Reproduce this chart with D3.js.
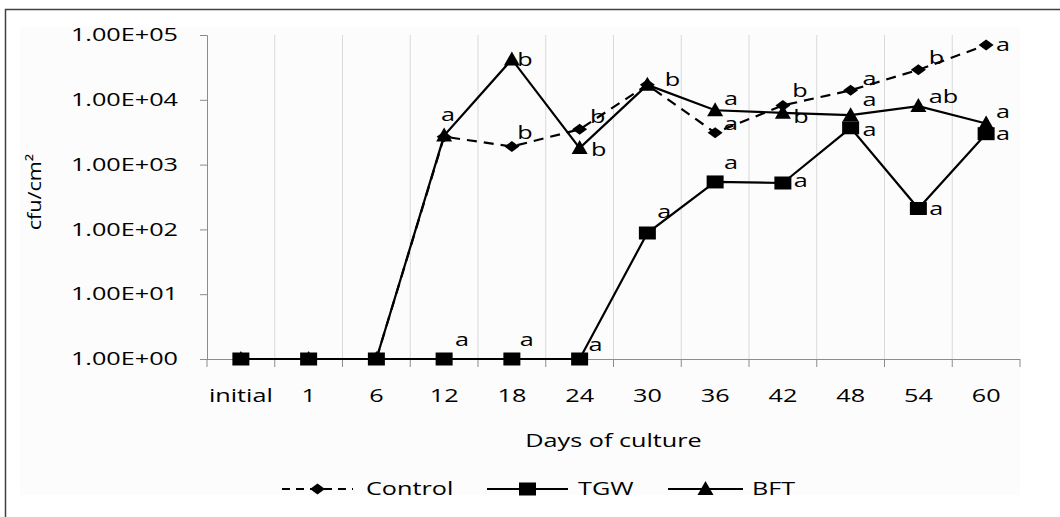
<!DOCTYPE html>
<html>
<head>
<meta charset="utf-8">
<script src="https://cdn.jsdelivr.net/npm/d3@7"></script>
<style>
  html, body { margin: 0; padding: 0; background: #fff; }
  svg text { font-family: "Open Sans", sans-serif; fill: #000; }
</style>
</head>
<body>
<script>
// chart data
const categories = ["initial", "1", "6", "12", "18", "24", "30", "36", "42", "48", "54", "60"];
const controlValues = [1, 1, 1, 2700, 1900, 3500, 17000, 3100, 8200, 14000, 29000, 70000];
const tgwValues = [1, 1, 1, 1, 1, 1, 88, 540, 520, 3700, 210, 3000];
const bftValues = [1, 1, 1, 2800, 42000, 1800, 17000, 6900, 6300, 5800, 8000, 4300];

// significance letters
const controlLetters = ["", "", "", "", "b", "b", "", "a", "b", "a", "b", "a"];
const tgwLetters = ["", "", "", "a", "a", "a", "a", "a", "a", "a", "a", "a"];
const bftLetters = ["", "", "", "a", "b", "b", "b", "a", "b", "a", "ab", "a"];

const yTickValues = [1, 10, 100, 1000, 10000, 100000];
const yTickLabels = ["1.00E+00", "1.00E+01", "1.00E+02", "1.00E+03", "1.00E+04", "1.00E+05"];
const seriesNames = ["Control", "TGW", "BFT"];

// where each letter sits relative to its marker
const controlOffsets = [null, null, null, null, [13, -14], [18, -13], null, [16, -9], [17, -15], [19, -12], [18, -12], [17, 0]];
const tgwOffsets = [null, null, null, [18, -19], [15, -19], [16, -14], [17, -21], [16, -19], [18, -2], [19, 2], [18, 0], [17, 0]];
const bftOffsets = [null, null, null, [4, -21], [13, 0], [19, 2], [25, -5], [16, -12], [18, 4], [19, -15], [25, -9], [17, -12]];

const W = 1060, H = 517;
const margin = {top: 35, left: 207, right: 1020, bottom: 359};
const STRETCH = 1.4;

const svg = d3.select("body").append("svg")
  .attr("width", W)
  .attr("height", H);

// faint chart area and outer frame
svg.append("rect").attr("x", 20).attr("y", 27).attr("width", 1000).attr("height", 468).attr("fill", "#fcfcfc");
svg.append("path")
  .attr("d", "M5.5," + H + " L5.5,9.5 L" + W + ",9.5")
  .attr("fill", "none").attr("stroke", "#404040").attr("stroke-width", 1.5);

const x = d3.scaleBand()
  .domain(categories)
  .range([margin.left, margin.right])
  .padding(0);

const y = d3.scaleLog()
  .domain([1, 100000])
  .range([margin.bottom, margin.top]);

const cx = d => x(d) + x.bandwidth() / 2;

function stretch(sel, k) {
  sel.each(function() {
    const w = this.getComputedTextLength();
    this.setAttribute("textLength", w * k);
    this.setAttribute("lengthAdjust", "spacingAndGlyphs");
  });
}

// vertical gridlines at category boundaries
const bounds = categories.map(c => x(c)).concat([margin.right]);
svg.append("g").selectAll("line")
  .data(bounds.slice(1, -1))
  .join("line")
  .attr("x1", d => d).attr("x2", d => d)
  .attr("y1", margin.top).attr("y2", margin.bottom)
  .attr("stroke", "#d9d9d9").attr("stroke-width", 1);

// y axis
const yAxis = svg.append("g")
  .attr("transform", "translate(" + margin.left + ",0)")
  .call(d3.axisLeft(y).tickValues(yTickValues).tickSize(7).tickPadding(22)
    .tickFormat((d, i) => yTickLabels[i]));
yAxis.select(".domain").attr("stroke", "#8c8c8c");
yAxis.selectAll(".tick line").attr("stroke", "#8c8c8c");
yAxis.selectAll(".tick text").attr("font-size", 18).attr("fill", "#000").attr("font-family", "Open Sans").call(stretch, STRETCH);

// x axis
const xAxis = svg.append("g")
  .attr("transform", "translate(0," + margin.bottom + ")")
  .call(d3.axisBottom(x).tickSize(0));
xAxis.select(".domain").remove();
svg.append("line")
  .attr("x1", margin.left).attr("x2", margin.right)
  .attr("y1", margin.bottom + 0.5).attr("y2", margin.bottom + 0.5)
  .attr("stroke", "#8c8c8c");
svg.append("g").selectAll("line")
  .data(bounds)
  .join("line")
  .attr("x1", d => d).attr("x2", d => d)
  .attr("y1", margin.bottom).attr("y2", margin.bottom + 8)
  .attr("stroke", "#8c8c8c");
xAxis.selectAll(".tick text")
  .attr("y", 43).attr("dy", 0)
  .attr("font-size", 18).attr("fill", "#000").attr("font-family", "Open Sans")
  .call(stretch, STRETCH);

// axis titles
svg.append("text")
  .attr("x", (margin.left + margin.right) / 2).attr("y", 447)
  .attr("text-anchor", "middle").attr("font-size", 18)
  .text("Days of culture").call(stretch, STRETCH);

svg.append("text")
  .attr("transform", "translate(41,192) rotate(-90)")
  .attr("text-anchor", "middle").attr("font-size", 18)
  .text("cfu/cm²").call(stretch, 1.2);

// markers
const square = "M-8.5,-6.5 L8.5,-6.5 L8.5,6.5 L-8.5,6.5 Z";
const triangle = "M0,-8 L8,6 L-8,6 Z";
const diamond = "M0,-5.5 L7.5,0 L0,5.5 L-7.5,0 Z";

const line = d3.line()
  .x((d, i) => cx(categories[i]))
  .y(d => y(d));

const series = [
  {values: tgwValues, letters: tgwLetters, offsets: tgwOffsets, marker: square, dash: null},
  {values: bftValues, letters: bftLetters, offsets: bftOffsets, marker: triangle, dash: null},
  {values: controlValues, letters: controlLetters, offsets: controlOffsets, marker: diamond, dash: "10,7"}
];

series.forEach(s => {
  svg.append("path")
    .datum(s.values)
    .attr("d", line)
    .attr("fill", "none")
    .attr("stroke", "#000")
    .attr("stroke-width", 2.2)
    .attr("stroke-dasharray", s.dash);
});

series.forEach(s => {
  svg.append("g").selectAll("path")
    .data(s.values)
    .join("path")
    .attr("d", s.marker)
    .attr("transform", (d, i) => "translate(" + cx(categories[i]) + "," + y(d) + ")")
    .attr("fill", "#000");
});

series.forEach(s => {
  svg.append("g").selectAll("text")
    .data(s.letters.map((l, i) => ({l, i})).filter(d => d.l !== ""))
    .join("text")
    .attr("x", d => cx(categories[d.i]) + s.offsets[d.i][0])
    .attr("y", d => y(s.values[d.i]) + s.offsets[d.i][1])
    .attr("dy", "0.35em")
    .attr("text-anchor", "middle")
    .attr("font-size", 18)
    .text(d => d.l)
    .call(stretch, STRETCH);
});

// legend
const legendY = 489;
const legendItems = [
  {name: seriesNames[0], x1: 282, x2: 353, marker: diamond, dash: "8,6", tx: 366},
  {name: seriesNames[1], x1: 487, x2: 568, marker: square, dash: null, tx: 578},
  {name: seriesNames[2], x1: 668, x2: 743, marker: triangle, dash: null, tx: 752}
];
const legend = svg.append("g");
legendItems.forEach(it => {
  legend.append("line")
    .attr("x1", it.x1).attr("x2", it.x2)
    .attr("y1", legendY).attr("y2", legendY)
    .attr("stroke", "#000").attr("stroke-width", 2.2)
    .attr("stroke-dasharray", it.dash);
  legend.append("path")
    .attr("d", it.marker)
    .attr("transform", "translate(" + (it.x1 + it.x2) / 2 + "," + legendY + ")")
    .attr("fill", "#000");
  legend.append("text")
    .attr("x", it.tx).attr("y", 495)
    .attr("font-size", 18)
    .text(it.name)
    .call(stretch, STRETCH);
});
</script>
</body>
</html>
